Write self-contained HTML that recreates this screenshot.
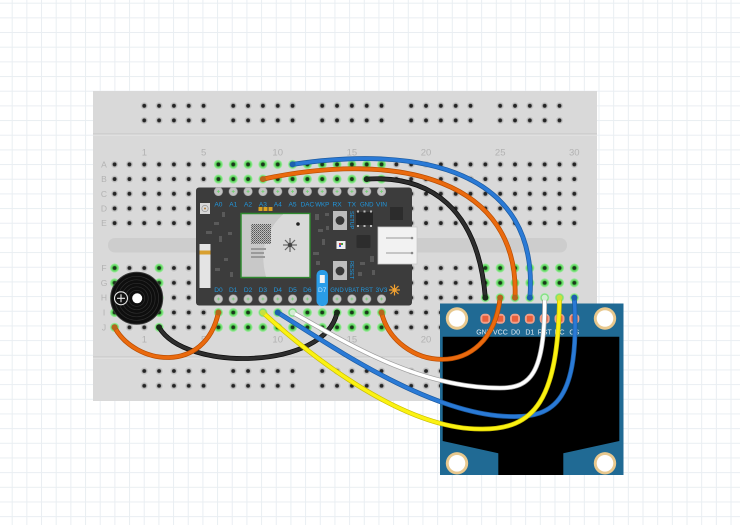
<!DOCTYPE html>
<html><head><meta charset="utf-8"><style>
html,body{margin:0;padding:0;background:#fff;}
svg{display:block;}
text{font-family:"Liberation Sans",sans-serif;}
</style></head><body>
<svg width="740" height="525" viewBox="0 0 740 525" xmlns="http://www.w3.org/2000/svg">
<defs>
<pattern id="grid" x="11.7" y="2.7" width="14.67" height="14.67" patternUnits="userSpaceOnUse">
<path d="M0.5 0V14.67M0 0.5H14.67" stroke="#e9eef2" stroke-width="1" fill="none"/>
</pattern>
<radialGradient id="hg"><stop offset="0.4" stop-color="#a9a9a9"/><stop offset="1" stop-color="#e2e2e2"/></radialGradient>
<radialGradient id="gg"><stop offset="0.4" stop-color="#3fc83f"/><stop offset="1" stop-color="#a8eea8"/></radialGradient>
<pattern id="pA" x="107.185" y="157.06" width="14.83" height="14.68" patternUnits="userSpaceOnUse">
<circle cx="7.415" cy="7.34" r="4.4" fill="url(#hg)"/><circle cx="7.415" cy="7.34" r="1.9" fill="#242424"/></pattern>
<pattern id="gA" x="107.185" y="157.06" width="14.83" height="14.68" patternUnits="userSpaceOnUse">
<circle cx="7.415" cy="7.34" r="4.6" fill="url(#gg)"/><circle cx="7.415" cy="7.34" r="1.9" fill="#1c361c"/></pattern>
<pattern id="pF" x="107.185" y="260.585" width="14.83" height="14.83" patternUnits="userSpaceOnUse">
<circle cx="7.415" cy="7.415" r="4.4" fill="url(#hg)"/><circle cx="7.415" cy="7.415" r="1.9" fill="#242424"/></pattern>
<pattern id="gF" x="107.185" y="260.585" width="14.83" height="14.83" patternUnits="userSpaceOnUse">
<circle cx="7.415" cy="7.415" r="4.6" fill="url(#gg)"/><circle cx="7.415" cy="7.415" r="1.9" fill="#1c361c"/></pattern>
<pattern id="pRT" x="107.185" y="98.5" width="14.83" height="14.6" patternUnits="userSpaceOnUse">
<circle cx="7.415" cy="7.3" r="4.4" fill="url(#hg)"/><circle cx="7.415" cy="7.3" r="1.9" fill="#242424"/></pattern>
<pattern id="pRB" x="107.185" y="363.6" width="14.83" height="14.8" patternUnits="userSpaceOnUse">
<circle cx="7.415" cy="7.4" r="4.4" fill="url(#hg)"/><circle cx="7.415" cy="7.4" r="1.9" fill="#242424"/></pattern>
<pattern id="pinT" x="107.185" y="187" width="14.83" height="9" patternUnits="userSpaceOnUse">
<circle cx="7.415" cy="4.5" r="4.3" fill="#c2c2c2" stroke="#9c9c9c" stroke-width="0.5"/><path d="M5.9 4.5H8.9M7.415 3V6" stroke="#6fd06f" stroke-width="0.8"/></pattern>
<pattern id="pinB" x="107.185" y="294.5" width="14.83" height="9" patternUnits="userSpaceOnUse">
<circle cx="7.415" cy="4.5" r="4.3" fill="#c2c2c2" stroke="#9c9c9c" stroke-width="0.5"/><path d="M5.9 4.5H8.9M7.415 3V6" stroke="#6fd06f" stroke-width="0.8"/></pattern>
<pattern id="qr" x="0" y="0" width="2" height="2" patternUnits="userSpaceOnUse">
<rect width="2" height="2" fill="#bdbdbd"/><rect width="1" height="1" fill="#555"/><rect x="1" y="1" width="1" height="1" fill="#777"/></pattern>
</defs>

<rect width="740" height="525" fill="#fff"/>
<rect width="740" height="525" fill="url(#grid)"/>

<!-- breadboard -->
<rect x="93" y="91" width="504" height="310" fill="#d9d9d9"/>
<line x1="93" y1="134" x2="597" y2="134" stroke="#c5c5c5" stroke-width="1"/>
<line x1="93" y1="135" x2="597" y2="135" stroke="#e6e6e6" stroke-width="1"/>
<line x1="93" y1="357" x2="597" y2="357" stroke="#c5c5c5" stroke-width="1"/>
<line x1="93" y1="358" x2="597" y2="358" stroke="#e6e6e6" stroke-width="1"/>
<rect x="108" y="238" width="459" height="14.5" rx="7" fill="#cdcdcd"/>

<!-- rails -->
<rect x="136.845" y="98.5" width="74.15" height="29.2" fill="url(#pRT)"/>
<rect x="225.825" y="98.5" width="74.15" height="29.2" fill="url(#pRT)"/>
<rect x="314.805" y="98.5" width="74.15" height="29.2" fill="url(#pRT)"/>
<rect x="403.785" y="98.5" width="74.15" height="29.2" fill="url(#pRT)"/>
<rect x="492.765" y="98.5" width="74.15" height="29.2" fill="url(#pRT)"/>
<rect x="136.845" y="363.6" width="74.15" height="29.6" fill="url(#pRB)"/>
<rect x="225.825" y="363.6" width="74.15" height="29.6" fill="url(#pRB)"/>
<rect x="314.805" y="363.6" width="74.15" height="29.6" fill="url(#pRB)"/>
<rect x="403.785" y="363.6" width="74.15" height="29.6" fill="url(#pRB)"/>
<rect x="492.765" y="363.6" width="74.15" height="29.6" fill="url(#pRB)"/>

<!-- main holes -->
<rect x="107.185" y="157.06" width="474.56" height="73.4" fill="url(#pA)"/>
<rect x="107.185" y="260.585" width="474.56" height="74.15" fill="url(#pF)"/>
<!-- green -->
<rect x="211.0" y="157.06" width="177.96" height="29.36" fill="url(#gA)"/>
<rect x="211.0" y="305.075" width="177.96" height="29.66" fill="url(#gF)"/>
<rect x="107.185" y="260.585" width="14.83" height="74.15" fill="url(#gF)"/>
<rect x="151.675" y="260.585" width="14.83" height="74.15" fill="url(#gF)"/>
<rect x="477.935" y="260.585" width="103.81" height="44.49" fill="url(#gF)"/>

<!-- labels -->
<g fill="#b2b2b2" font-size="9.5" text-anchor="middle">
<text x="144.4" y="155.3">1</text><text x="203.6" y="155.3">5</text><text x="277.7" y="155.3">10</text><text x="351.9" y="155.3">15</text><text x="426" y="155.3">20</text><text x="500.2" y="155.3">25</text><text x="574.3" y="155.3">30</text>
<text x="144.4" y="342.6">1</text><text x="203.6" y="342.6">5</text><text x="277.7" y="342.6">10</text><text x="351.9" y="342.6">15</text><text x="426" y="342.6">20</text><text x="500.2" y="342.6">25</text><text x="574.3" y="342.6">30</text>
</g>
<g fill="#b2b2b2" font-size="8.5" text-anchor="middle">
<text x="104" y="167.4">A</text><text x="104" y="182.1">B</text><text x="104" y="196.8">C</text><text x="104" y="211.4">D</text><text x="104" y="226.1">E</text>
<text x="104" y="271">F</text><text x="104" y="285.8">G</text><text x="104" y="300.7">H</text><text x="104" y="315.5">I</text><text x="104" y="330.3">J</text>
</g>

<!-- Particle Photon -->
<rect x="196" y="187.5" width="216" height="118" rx="3" fill="#3c3c3c"/>
<rect x="211" y="187" width="177.96" height="9" fill="url(#pinT)"/>
<rect x="211" y="294.5" width="177.96" height="9" fill="url(#pinB)"/>
<!-- D7 LED -->
<rect x="316.5" y="270" width="11.5" height="36" rx="5" fill="#2a9de8"/>
<rect x="319.8" y="275" width="5" height="8" fill="#f4f4f4"/>
<g fill="#2196dc" font-size="6.6" text-anchor="middle">
<text x="218.41" y="206.6">A0</text><text x="233.24" y="206.6">A1</text><text x="248.07" y="206.6">A2</text><text x="262.9" y="206.6">A3</text><text x="277.73" y="206.6">A4</text><text x="292.56" y="206.6">A5</text>
<text x="307.39" y="206.6" textLength="13.5" lengthAdjust="spacingAndGlyphs">DAC</text><text x="322.22" y="206.6" textLength="14" lengthAdjust="spacingAndGlyphs">WKP</text><text x="337.05" y="206.6">RX</text><text x="351.88" y="206.6">TX</text>
<text x="366.71" y="206.6" textLength="13.5" lengthAdjust="spacingAndGlyphs">GND</text><text x="381.54" y="206.6">VIN</text>
<text x="218.41" y="291.8">D0</text><text x="233.24" y="291.8">D1</text><text x="248.07" y="291.8">D2</text><text x="262.9" y="291.8">D3</text><text x="277.73" y="291.8">D4</text><text x="292.56" y="291.8">D5</text><text x="307.39" y="291.8">D6</text>
<text x="337.05" y="291.8" textLength="13.5" lengthAdjust="spacingAndGlyphs">GND</text><text x="351.88" y="291.8" textLength="14.5" lengthAdjust="spacingAndGlyphs">VBAT</text><text x="366.71" y="291.8" textLength="12.5" lengthAdjust="spacingAndGlyphs">RST</text><text x="381.54" y="291.8" textLength="12" lengthAdjust="spacingAndGlyphs">3V3</text>
</g>
<text x="322.22" y="291.8" fill="#bfe3ff" font-size="6.6" text-anchor="middle">D7</text>
<!-- antenna -->
<rect x="200" y="203" width="10" height="11" fill="#d8d8d8"/>
<circle cx="205" cy="208.5" r="3.2" fill="none" stroke="#9a9a9a" stroke-width="0.8"/>
<circle cx="205" cy="208.5" r="1" fill="#b08040"/>
<!-- orange pads -->
<rect x="258.5" y="207" width="4" height="4" fill="#d9a020"/><rect x="263.5" y="207" width="4" height="4" fill="#d9a020"/><rect x="268.5" y="207" width="4" height="4" fill="#d9a020"/>
<!-- small parts -->
<g fill="#5a5a5a">
<rect x="222" y="212" width="3" height="5"/><rect x="214" y="222" width="5" height="3"/><rect x="206" y="231" width="6" height="3"/><rect x="219" y="236" width="3" height="6"/><rect x="228" y="232" width="4" height="3"/><rect x="224" y="258" width="4" height="3"/><rect x="215" y="268" width="5" height="3"/><rect x="230" y="272" width="3" height="5"/>
<rect x="315" y="214" width="4" height="6"/><rect x="318" y="229" width="5" height="3"/><rect x="322" y="239" width="3" height="6"/><rect x="313" y="252" width="6" height="3"/><rect x="316" y="261" width="4" height="4"/><rect x="325" y="213" width="4" height="3"/><rect x="326" y="226" width="3" height="4"/>
<rect x="360" y="262" width="5" height="3"/><rect x="370" y="256" width="4" height="6"/><rect x="358" y="272" width="4" height="4"/><rect x="372" y="270" width="3" height="5"/>
</g>
<!-- module -->
<rect x="241" y="213.5" width="69" height="64" fill="#c8c8c8" stroke="#2f8a2f" stroke-width="1.5"/>
<path d="M283,214.3 Q256,240 266,276.7 L309.2,276.7 L309.2,214.3 Z" fill="#d9d9d9"/>
<rect x="251" y="224" width="20" height="20" fill="url(#qr)"/>
<rect x="251" y="248" width="15" height="2" fill="#9a9a9a"/><rect x="251" y="252" width="13" height="2" fill="#9a9a9a"/><rect x="251" y="256" width="14" height="2" fill="#9a9a9a"/>
<circle cx="298" cy="224" r="1.8" fill="#222"/>
<g stroke="#666" stroke-width="1.2"><line x1="283" y1="245" x2="297" y2="245"/><line x1="290" y1="238" x2="290" y2="252"/><line x1="285" y1="240" x2="295" y2="250"/><line x1="285" y1="250" x2="295" y2="240"/></g>
<circle cx="290" cy="245" r="2.2" fill="#444"/>
<!-- left white part -->
<rect x="199.5" y="244" width="11" height="44" fill="#e4e4e4"/>
<rect x="199.5" y="250.5" width="11" height="4" fill="#d9a030"/>
<!-- buttons -->
<rect x="333" y="211" width="14" height="19" fill="#bdbdbd"/>
<circle cx="340" cy="220.5" r="4.4" fill="#383838"/>
<rect x="333" y="261" width="14" height="19" fill="#bdbdbd"/>
<circle cx="340" cy="271" r="4.4" fill="#383838"/>
<g fill="#2196dc" font-size="5.5"><text transform="translate(350,211) rotate(90)">SETUP</text><text transform="translate(350,261) rotate(90)">RESET</text></g>
<rect x="356" y="212" width="17" height="13" fill="#262626"/>
<g fill="#bbb"><rect x="357" y="210.5" width="2" height="2"/><rect x="363.5" y="210.5" width="2" height="2"/><rect x="370" y="210.5" width="2" height="2"/><rect x="357" y="225" width="2" height="2"/><rect x="363.5" y="225" width="2" height="2"/><rect x="370" y="225" width="2" height="2"/></g>
<rect x="336.5" y="241" width="9" height="8" fill="#eeeeee"/>
<rect x="339" y="243" width="2" height="2" fill="#e04040"/><rect x="341" y="243" width="2" height="2" fill="#40a040"/><rect x="339" y="245" width="2" height="2" fill="#4060e0"/>
<rect x="356.5" y="235" width="14" height="13" rx="1" fill="#2d2d2d"/>
<rect x="390" y="207" width="13" height="13" fill="#2c2c2c"/>
<!-- USB -->
<rect x="378" y="227" width="39" height="37" fill="#f2f2f2" stroke="#c8c8c8" stroke-width="0.8"/>
<g stroke="#9a9a9a" stroke-width="1"><line x1="386" y1="238" x2="413" y2="238"/><line x1="386" y1="253" x2="413" y2="253"/></g>
<circle cx="412" cy="238" r="1.3" fill="#888"/><circle cx="412" cy="253" r="1.3" fill="#888"/>
<!-- star near 3V3 -->
<g stroke="#f0a030" stroke-width="1.2"><line x1="389" y1="290" x2="400" y2="290"/><line x1="394.5" y1="284.5" x2="394.5" y2="295.5"/><line x1="390.5" y1="286" x2="398.5" y2="294"/><line x1="390.5" y1="294" x2="398.5" y2="286"/></g>
<circle cx="394.5" cy="290" r="2" fill="#f0a030"/>

<!-- buzzer -->
<circle cx="136.7" cy="298.3" r="26" fill="#0e0e0e" stroke="#3a3a3a" stroke-width="1"/>
<g fill="none" stroke="#2e2e2e" stroke-width="0.7">
<circle cx="136.7" cy="298.3" r="22"/><circle cx="136.7" cy="298.3" r="18.5"/><circle cx="136.7" cy="298.3" r="15"/><circle cx="136.7" cy="298.3" r="11.5"/><circle cx="136.7" cy="298.3" r="8"/>
</g>
<circle cx="137.2" cy="298.3" r="5" fill="#fff"/>
<circle cx="121" cy="298.3" r="6.5" fill="#111" stroke="#e8e8e8" stroke-width="1.1"/>
<path d="M117 298.3H125M121 294.3V302.3" stroke="#e8e8e8" stroke-width="1.1"/>

<!-- OLED -->
<rect x="440" y="303.5" width="183.5" height="171.5" fill="#206a94"/>
<polygon points="442.7,336.7 619.3,336.7 619.3,441 563.3,453.3 563.3,475 498.3,475 498.3,453.3 442.7,441" fill="#000"/>
<g fill="#e8c88e"><circle cx="457" cy="318.5" r="11.2"/><circle cx="605" cy="318.5" r="11.2"/><circle cx="457" cy="463.3" r="11.2"/><circle cx="605" cy="463.3" r="11.2"/></g>
<g fill="#fff"><circle cx="457" cy="318.5" r="8.3"/><circle cx="605" cy="318.5" r="8.3"/><circle cx="457" cy="463.3" r="8.3"/><circle cx="605" cy="463.3" r="8.3"/></g>
<g fill="#eea08a">
<rect x="480.35" y="313.8" width="10" height="10" rx="4"/><rect x="495.18" y="313.8" width="10" height="10" rx="4"/><rect x="510.01" y="313.8" width="10" height="10" rx="4"/><rect x="524.84" y="313.8" width="10" height="10" rx="4"/><rect x="539.67" y="313.8" width="10" height="10" rx="4"/><rect x="554.5" y="313.8" width="10" height="10" rx="4"/><rect x="569.33" y="313.8" width="10" height="10" rx="4"/>
</g>
<g fill="#e8603c">
<rect x="482.35" y="315.8" width="6" height="6" rx="1"/><rect x="497.18" y="315.8" width="6" height="6" rx="1"/><rect x="512.01" y="315.8" width="6" height="6" rx="1"/><rect x="526.84" y="315.8" width="6" height="6" rx="1"/><rect x="541.67" y="315.8" width="6" height="6" rx="1"/><rect x="556.5" y="315.8" width="6" height="6" rx="1"/><rect x="571.33" y="315.8" width="6" height="6" rx="1"/>
</g>
<g fill="#e4ecf2" font-size="7" text-anchor="middle">
<text x="484" y="334.5">GND</text><text x="500.4" y="334.5">VCC</text><text x="515.5" y="334.5">D0</text><text x="529.8" y="334.5">D1</text><text x="544.7" y="334.5">RST</text><text x="559.5" y="334.5">DC</text><text x="574.3" y="334.5">CS</text>
</g>

<!-- wires -->
<g fill="none" stroke-linecap="round">
<path d="M159.1,327.3 C185,372 325,370 337.05,312.5" stroke="#0a0a0a" stroke-width="4.8"/>
<path d="M159.1,327.3 C185,372 325,370 337.05,312.5" stroke="#2e2e2e" stroke-width="3.4"/>
<path d="M114.6,327.3 C135,365 205,375 218.41,312.5" stroke="#b84c00" stroke-width="4.8"/>
<path d="M114.6,327.3 C135,365 205,375 218.41,312.5" stroke="#ea6a0e" stroke-width="3.4"/>
<path d="M366.71,179.1 C430,175 478,208 485.35,297.66" stroke="#0a0a0a" stroke-width="4.8"/>
<path d="M366.71,179.1 C430,175 478,208 485.35,297.66" stroke="#2e2e2e" stroke-width="3.4"/>
<path d="M262.9,179.1 C400,150 520,180 515.01,297.66" stroke="#b84c00" stroke-width="4.8"/>
<path d="M262.9,179.1 C400,150 520,180 515.01,297.66" stroke="#ea6a0e" stroke-width="3.4"/>
<path d="M292.56,164.4 C420,145 540,170 529.84,297.66" stroke="#1b5aa0" stroke-width="4.8"/>
<path d="M292.56,164.4 C420,145 540,170 529.84,297.66" stroke="#2a7ad6" stroke-width="3.4"/>
<path d="M381.54,312.5 C395,370 490,385 500.18,297.66" stroke="#b84c00" stroke-width="4.8"/>
<path d="M381.54,312.5 C395,370 490,385 500.18,297.66" stroke="#ea6a0e" stroke-width="3.4"/>
<path d="M292.56,312.5 C350,345 420,388 500,388 C530,388 545,375 544.67,297.66" stroke="#9c9c9c" stroke-width="4.8"/>
<path d="M292.56,312.5 C350,345 420,388 500,388 C530,388 545,375 544.67,297.66" stroke="#ffffff" stroke-width="3.4"/>
<path d="M277.73,312.5 C330,345 430,415 510,416.5 C555,418 580,400 574.33,297.66" stroke="#1b5aa0" stroke-width="4.8"/>
<path d="M277.73,312.5 C330,345 430,415 510,416.5 C555,418 580,400 574.33,297.66" stroke="#2a7ad6" stroke-width="3.4"/>
<path d="M262.9,312.5 C315,360 405,429 480,429 C535,430 558,400 559.5,297.66" stroke="#c9bd00" stroke-width="4.8"/>
<path d="M262.9,312.5 C315,360 405,429 480,429 C535,430 558,400 559.5,297.66" stroke="#fbf212" stroke-width="3.4"/>
</g>
<!-- wire ends -->
<g>
<circle cx="159.1" cy="327.3" r="3" fill="#1a2a1a"/><circle cx="337.05" cy="312.5" r="3" fill="#1a2a1a"/>
<circle cx="114.6" cy="327.3" r="3" fill="#b5651d"/><circle cx="218.41" cy="312.5" r="3" fill="#b5651d"/>
<circle cx="366.71" cy="179.1" r="3" fill="#1a2a1a"/><circle cx="485.35" cy="297.66" r="3" fill="#1a2a1a"/>
<circle cx="262.9" cy="179.1" r="3" fill="#b5651d"/><circle cx="515.01" cy="297.66" r="3" fill="#b5651d"/>
<circle cx="292.56" cy="164.4" r="3" fill="#1d5fae"/><circle cx="529.84" cy="297.66" r="3" fill="#1d5fae"/>
<circle cx="381.54" cy="312.5" r="3" fill="#b5651d"/><circle cx="500.18" cy="297.66" r="3" fill="#b5651d"/>
<circle cx="292.56" cy="312.5" r="3" fill="#d4ecd4"/><circle cx="544.67" cy="297.66" r="3" fill="#d4ecd4"/>
<circle cx="277.73" cy="312.5" r="3" fill="#1d5fae"/><circle cx="574.33" cy="297.66" r="3" fill="#1d5fae"/>
<circle cx="262.9" cy="312.5" r="3" fill="#c8e040"/><circle cx="559.5" cy="297.66" r="3" fill="#c8e040"/>
</g>
</svg>
</body></html>
